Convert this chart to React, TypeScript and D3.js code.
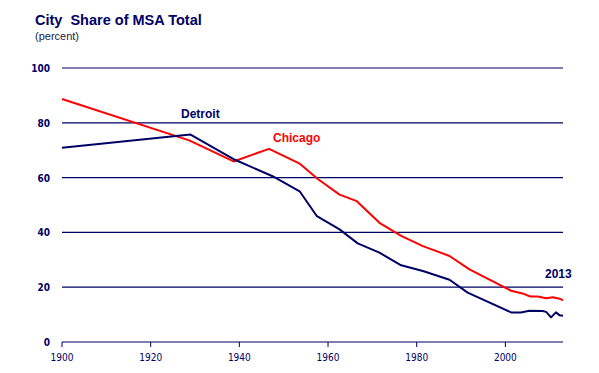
import * as d3 from 'd3';

// years and values
const detroitYears = [1900, 1929, 1939, 1947.5, 1953.6, 1957.5, 1962.6, 1966.7, 1971.6, 1976.5, 1981.4, 1987.4, 1991.5, 2001.3, 2003.5, 2005.4, 2008.4, 2009.2, 2010.3, 2011.4, 2012.2, 2013];
const detroitValues = [70.9, 75.7, 66.5, 60.5, 55, 45.9, 41.1, 36, 32.6, 28, 25.9, 22.7, 18, 10.8, 10.8, 11.4, 11.3, 11, 9, 10.8, 9.8, 9.6];

const chicagoYears = [1900, 1928.7, 1938.7, 1946.7, 1953.5, 1957.7, 1962.6, 1966.5, 1971.6, 1976.5, 1981.4, 1987.4, 1991.9, 2001.3, 2004.3, 2005.6, 2007.3, 2009.2, 2010.7, 2012.2, 2013];
const chicagoValues = [88.7, 73.6, 65.9, 70.5, 65.2, 59.5, 53.8, 51.4, 43.5, 38.7, 35, 31.4, 26.5, 18.7, 17.5, 16.6, 16.6, 16, 16.3, 15.8, 15.2];

const yTicks = [0, 20, 40, 60, 80, 100];
const xTicks = [1900, 1920, 1940, 1960, 1980, 2000];

const navy = '#000066';
const red = '#ff0000';

export default function App() {
  const width = 599;
  const height = 373;

  const x = d3.scaleLinear().domain([1900, 2013]).range([62, 563]);
  const y = d3.scaleLinear().domain([0, 100]).range([342, 68]);

  const line = d3
    .line<[number, number]>()
    .x((d) => x(d[0]))
    .y((d) => y(d[1]));

  const detroit = detroitYears.map((yr, i) => [yr, detroitValues[i]] as [number, number]);
  const chicago = chicagoYears.map((yr, i) => [yr, chicagoValues[i]] as [number, number]);

  return (
    <svg
      width={width}
      height={height}
      style={{ position: 'absolute', left: 0, top: 0, fontFamily: 'Liberation Sans, Arial, sans-serif' }}
    >
      <rect width={width} height={height} fill="#fff" />
      <text x={35} y={25} fontSize={14.5} fontWeight="bold" fill={navy} style={{ whiteSpace: 'pre' }}>
        {'City  Share of MSA Total'}
      </text>
      <text x={35} y={40} fontSize={11} fill="#222244">
        (percent)
      </text>

      {/* gridlines + y labels */}
      {yTicks.map((t) => (
        <g key={t}>
          <line x1={x(1900)} x2={x(2013)} y1={y(t)} y2={y(t)} stroke={navy} strokeWidth={1.2} />
          <text
            x={50}
            y={y(t) + 4}
            textAnchor="end"
            fontSize={10}
            fontWeight="bold"
            fill={navy}
            fontFamily="DejaVu Sans Condensed, DejaVu Sans, sans-serif"
          >
            {t}
          </text>
        </g>
      ))}

      {/* x ticks */}
      {xTicks.map((t) => (
        <g key={t}>
          <line x1={x(t)} x2={x(t)} y1={y(0)} y2={y(0) + 5} stroke={navy} strokeWidth={1} />
          <text
            x={x(t)}
            y={361}
            textAnchor="middle"
            fontSize={10}
            fill={navy}
            fontFamily="DejaVu Sans Condensed, DejaVu Sans, sans-serif"
          >
            {t}
          </text>
        </g>
      ))}

      <path d={line(chicago) ?? ''} fill="none" stroke={red} strokeWidth={2} strokeLinejoin="round" />
      <path d={line(detroit) ?? ''} fill="none" stroke={navy} strokeWidth={2} strokeLinejoin="round" />

      <text x={181} y={118} fontSize={12} fontWeight="bold" fill={navy}>
        Detroit
      </text>
      <text x={273} y={142} fontSize={12} fontWeight="bold" fill={red}>
        Chicago
      </text>
      <text x={545} y={278} fontSize={12} fontWeight="bold" fill={navy}>
        2013
      </text>
    </svg>
  );
}
